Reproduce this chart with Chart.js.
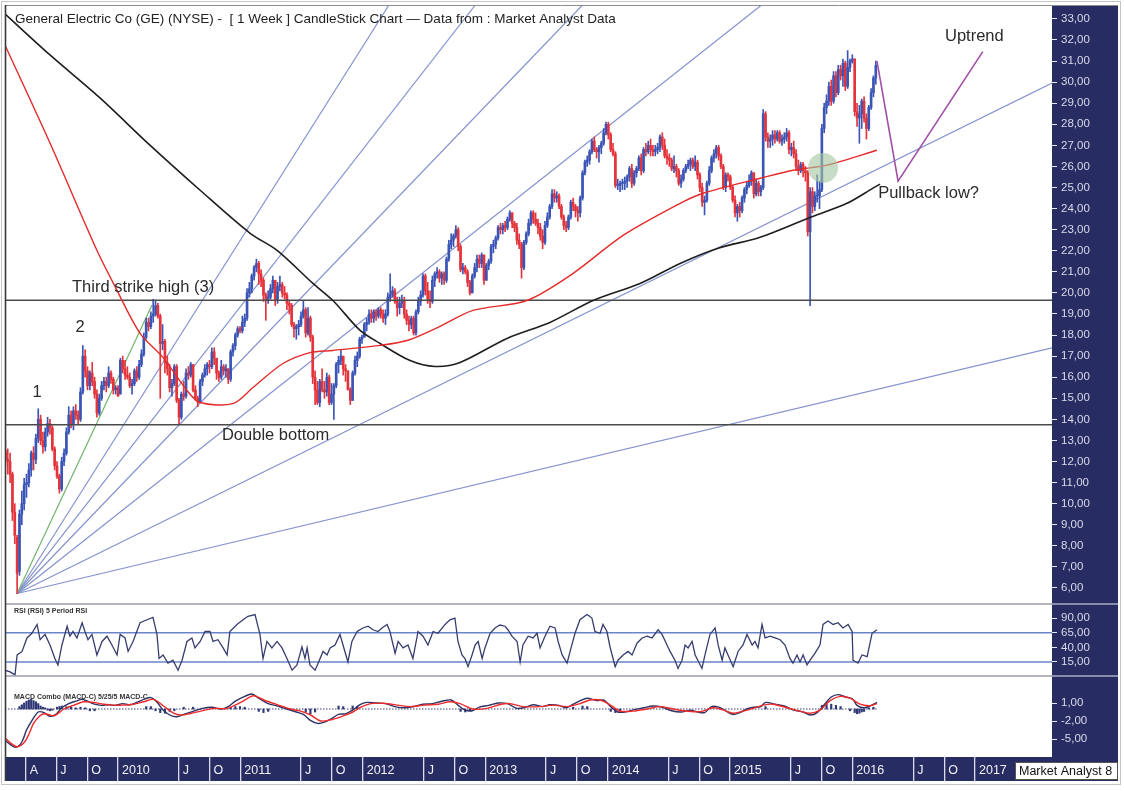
<!DOCTYPE html>
<html><head><meta charset="utf-8">
<script src="https://cdn.jsdelivr.net/npm/chart.js@4.4.1/dist/chart.umd.min.js"></script>
<style>html,body{margin:0;padding:0;background:#fff;}canvas{display:block;}</style>
</head><body>
<canvas id="c" width="1124" height="791"></canvas>
<script>
// ---------------- DATA ----------------
const firstWeek = 4; // weeks counted from Fri 2 Jan 2009; first candle = 30 Jan 2009
const weekOpen = [
12.5,12.1,12.0,11.4,9.6,8.4,6.8,9.5,10.0,10.9,11.0,11.6,12.4,12.1,13.1,14.0,13.0,12.7,13.4,13.8,13.6,12.6,11.8,11.3,10.7,12.0,12.4,13.4,14.2,13.8,14.4,14.2,14.0,15.3,17.0,16.3,15.6,16.2,15.8,15.2,14.3,15.0,15.6,15.8,15.6,16.2,15.9,15.4,15.5,
15.2,16.8,16.4,16.1,16.0,15.6,15.7,16.3,16.0,16.6,17.1,17.9,18.6,18.4,18.9,19.0,19.4,18.9,17.6,17.7,16.7,16.4,15.5,15.7,16.5,14.9,14.1,15.2,15.1,16.2,16.1,16.6,15.4,15.0,14.8,15.8,16.1,16.4,16.6,16.5,17.2,16.9,16.2,16.0,16.5,16.3,16.4,15.9,17.2,17.5,18.0,18.3,
18.2,18.6,18.8,20.0,20.2,20.8,21.2,21.4,20.9,20.6,19.9,19.7,19.8,20.2,20.6,19.7,20.3,20.4,20.0,19.9,19.5,19.4,18.5,18.3,18.4,18.5,18.9,19.2,18.1,18.8,17.9,16.0,15.4,14.8,15.8,15.4,15.3,16.0,14.8,15.2,15.6,16.6,16.8,17.0,16.4,16.3,15.4,14.9,16.2,16.8,17.0,17.8,
17.9,18.5,18.6,19.0,18.8,19.1,18.9,19.2,19.0,18.8,19.0,19.8,19.9,20.1,19.6,19.3,19.5,19.6,19.0,18.7,18.5,18.8,18.1,19.1,19.6,19.9,20.8,20.1,19.7,19.6,20.6,20.9,21.0,20.7,20.9,20.6,21.6,22.3,22.5,22.7,23.0,22.2,21.1,21.2,21.0,20.5,20.0,20.8,21.2,21.6,21.4,21.8,
20.6,21.3,21.5,22.2,22.3,22.6,23.1,23.0,23.2,23.1,23.5,23.8,23.3,23.1,22.5,22.3,21.2,22.4,22.8,23.3,23.8,23.5,23.3,23.1,22.7,22.4,23.2,23.6,24.1,24.7,24.5,24.6,24.1,23.6,23.2,23.1,23.6,24.3,24.1,23.9,23.8,24.5,25.7,26.2,26.3,26.7,27.2,26.8,26.7,26.9,27.1,27.6,
28.0,27.5,26.8,26.6,25.1,25.1,25.2,25.2,25.3,25.5,25.9,25.2,25.7,25.9,26.4,25.8,26.8,26.7,27.0,26.8,26.7,26.8,26.9,27.4,27.0,26.5,26.4,26.3,25.9,26.0,25.8,25.2,25.4,25.8,26.0,26.1,26.3,26.0,26.2,25.6,25.0,24.3,24.4,25.2,25.8,26.4,26.6,26.9,26.5,26.0,25.0,25.6,
25.5,25.0,24.4,23.8,24.1,23.9,24.5,24.9,25.1,25.3,25.7,24.7,25.2,24.8,25.0,28.5,27.4,27.2,27.3,27.5,27.3,27.6,27.2,27.3,27.4,27.6,26.8,26.9,26.6,26.0,25.8,26.1,25.8,25.7,22.9,24.8,24.1,24.6,24.6,24.9,27.8,28.8,29.1,29.8,29.1,30.3,29.5,30.6,30.3,30.9,29.8,30.7,
31.0,31.1,28.6,28.3,28.5,29.1,28.3,27.8,28.8,29.5,30.2];
const weekHigh = [
13.0,12.6,12.4,11.5,10.0,8.5,9.7,10.6,11.2,11.4,11.9,12.5,12.7,13.3,14.5,14.2,13.4,13.6,14.1,14.0,13.7,12.7,12.0,11.4,12.2,12.6,13.6,14.6,14.4,14.6,14.7,14.4,15.5,17.5,17.3,16.5,16.3,16.7,16.0,15.4,15.2,15.8,16.0,16.0,16.5,16.3,16.0,15.6,15.6,
16.9,17.0,16.8,16.5,16.2,15.9,16.4,16.5,16.8,17.3,18.1,18.8,18.8,19.1,19.7,19.6,19.5,19.0,18.5,17.8,17.0,16.6,15.9,16.6,16.6,15.0,15.3,15.8,16.4,16.5,16.7,16.6,15.6,15.1,15.9,16.2,16.6,16.7,16.8,17.4,17.4,16.9,16.3,16.8,16.6,16.6,16.4,17.3,17.6,18.1,18.4,18.4,
18.9,19.0,20.2,20.5,20.9,21.3,21.6,21.5,21.1,20.7,20.0,20.1,20.4,20.8,20.6,20.5,20.8,20.5,20.3,20.0,19.6,19.5,18.6,18.5,18.7,19.1,19.6,19.3,19.3,18.9,18.0,16.3,15.8,15.9,16.4,15.8,16.2,16.1,15.7,15.7,16.7,17.0,17.3,17.0,16.6,16.3,15.5,16.3,17.0,17.2,17.9,18.0,
18.6,18.8,19.2,19.2,19.2,19.2,19.3,19.3,19.2,19.2,20.0,20.9,20.3,20.2,19.8,19.8,19.9,19.8,19.2,18.9,18.9,18.9,19.2,19.8,20.1,20.9,20.9,20.5,20.1,20.8,21.0,21.2,21.1,21.0,21.0,21.7,22.5,22.8,22.8,23.2,23.1,22.3,21.4,21.3,21.1,20.6,20.9,21.4,21.8,21.8,21.9,21.8,
21.4,21.6,22.3,22.5,22.7,23.2,23.3,23.3,23.4,23.6,23.9,23.8,23.4,23.3,22.8,22.4,22.5,22.9,23.5,23.9,23.9,23.8,23.5,23.3,23.0,23.4,23.8,24.2,24.9,24.9,24.8,24.7,24.2,23.7,23.4,23.7,24.4,24.5,24.2,24.1,24.6,25.8,26.3,26.5,26.8,27.3,27.4,26.9,27.0,27.2,27.8,28.1,
28.1,27.6,27.1,26.7,25.4,25.3,25.4,25.5,25.6,26.0,26.1,25.8,26.0,26.5,26.6,26.9,27.1,27.2,27.3,27.0,27.0,27.1,27.5,27.6,27.3,26.8,26.6,26.4,26.5,26.1,25.9,25.6,25.9,26.1,26.3,26.4,26.4,26.5,26.3,25.7,25.2,24.6,25.3,26.0,26.5,26.8,27.0,27.0,26.6,26.1,25.7,25.7,
25.6,25.1,24.6,24.2,24.3,24.6,25.0,25.3,25.6,25.8,25.7,25.4,25.3,25.1,28.7,28.6,27.6,27.5,27.7,27.7,27.7,27.7,27.5,27.6,27.8,27.7,27.1,27.2,26.8,26.3,26.2,26.2,26.0,25.8,25.0,25.0,24.8,25.6,25.3,28.0,29.0,29.4,30.0,30.1,30.5,30.5,30.8,30.8,31.1,31.0,31.5,31.1,
31.3,31.1,29.0,28.9,29.2,29.3,28.5,28.9,29.7,30.3,31.0];
const weekLow = [
11.8,11.4,11.0,9.2,8.1,5.73,6.6,9.0,9.7,10.3,10.8,11.3,11.6,11.9,12.9,12.8,12.4,12.5,13.2,13.3,12.5,11.6,11.2,10.5,10.6,11.8,12.3,13.3,13.6,13.5,14.0,13.8,13.9,15.2,16.0,15.4,15.4,15.6,15.0,14.1,14.2,14.9,15.4,15.3,15.5,15.7,15.2,15.2,15.1,
15.2,16.2,15.9,15.9,15.5,15.2,15.6,15.8,15.9,16.5,17.0,17.8,18.2,18.3,18.6,18.9,18.8,15.0,17.3,16.2,16.1,15.3,15.1,15.6,14.8,13.8,14.0,14.9,15.0,15.9,16.0,15.3,14.9,14.6,14.8,15.6,16.0,16.1,16.2,16.4,16.6,15.9,15.8,15.9,16.1,16.0,15.7,15.8,17.0,17.3,17.9,18.1,
18.1,18.4,18.7,19.8,20.0,20.6,21.0,20.4,20.3,19.6,18.7,19.5,19.7,20.0,19.4,19.5,20.1,19.8,19.7,19.2,19.0,18.4,17.9,17.8,18.0,18.4,18.8,17.9,18.0,17.7,15.7,14.7,14.7,14.6,15.3,15.0,15.1,14.7,14.7,14.0,15.5,16.2,16.6,16.1,15.8,15.4,14.7,14.9,16.1,16.5,16.9,17.6,
17.9,18.2,18.5,18.6,18.6,18.7,18.8,18.8,18.6,18.5,18.9,19.6,19.8,19.5,18.9,19.0,19.3,18.8,18.5,18.2,18.3,18.0,18.0,19.0,19.4,19.8,19.9,19.5,19.3,19.5,20.3,20.7,20.5,20.4,20.4,20.5,21.5,22.1,22.2,22.6,22.0,21.0,20.9,20.9,20.3,19.9,20.0,20.7,21.0,21.2,21.2,20.4,
20.6,21.1,21.4,21.9,22.1,22.5,22.8,22.8,22.9,23.0,23.4,23.1,22.9,22.3,22.1,20.7,21.1,22.3,22.7,23.2,23.3,23.2,22.8,22.5,22.1,22.3,23.1,23.5,24.0,24.3,24.3,24.0,23.5,23.0,22.9,23.0,23.5,23.9,23.6,23.4,23.6,24.4,25.6,26.0,26.1,26.6,26.7,26.4,26.2,26.6,27.0,27.5,
27.3,26.7,26.5,25.0,24.9,24.8,24.9,24.9,25.0,25.3,25.0,25.1,25.5,25.8,25.6,25.7,26.5,26.6,26.5,26.5,26.5,26.6,26.7,26.8,26.4,26.1,26.0,25.8,25.7,25.5,25.1,25.0,25.3,25.7,25.9,25.8,25.9,25.8,25.4,24.8,24.1,23.7,24.3,25.1,25.7,26.2,26.4,26.3,25.9,24.9,24.8,25.3,
24.9,24.3,23.6,23.4,23.6,23.8,24.3,24.7,25.0,25.1,24.5,24.6,24.6,24.6,24.9,27.2,26.9,26.9,27.0,27.1,27.2,27.1,27.0,27.1,27.2,26.6,26.5,26.4,25.8,25.6,25.7,25.5,25.3,22.7,19.4,23.8,23.9,24.3,24.0,24.8,27.6,28.5,28.9,28.9,29.0,29.3,29.4,30.1,29.8,29.6,29.7,30.5,
30.9,28.4,27.9,27.1,27.8,28.1,27.3,27.7,28.7,29.3,29.9];
const weekClose = [
12.1,12.0,11.4,9.6,8.5,6.7,9.5,10.0,10.9,11.0,11.6,12.4,12.1,13.1,14.0,13.0,12.7,13.4,13.8,13.6,12.6,11.8,11.3,10.7,12.0,12.4,13.4,14.2,13.8,14.4,14.2,14.0,15.3,17.0,16.3,15.6,16.2,15.8,15.2,14.3,15.0,15.6,15.8,15.6,16.2,15.9,15.4,15.5,15.1,
16.8,16.4,16.1,16.0,15.6,15.7,16.3,16.0,16.6,17.1,17.9,18.6,18.4,18.9,19.0,19.4,18.9,17.6,17.7,16.7,16.4,15.5,15.7,16.5,14.9,14.1,15.2,15.1,16.2,16.1,16.6,15.4,15.0,14.8,15.8,16.1,16.4,16.6,16.5,17.2,16.9,16.2,16.0,16.5,16.3,16.4,15.9,17.2,17.5,18.0,18.3,18.2,
18.6,18.8,20.0,20.2,20.8,21.2,21.4,20.9,20.6,19.9,19.7,19.8,20.2,20.6,19.7,20.3,20.4,20.0,19.9,19.5,19.4,18.5,18.3,18.4,18.5,18.9,19.2,18.1,18.8,17.9,16.0,15.4,14.8,15.8,15.4,15.3,16.0,14.8,15.2,15.6,16.6,16.8,17.0,16.4,16.3,15.4,14.9,16.2,16.8,17.0,17.8,17.9,
18.5,18.6,19.0,18.8,19.1,18.9,19.2,19.0,18.8,19.0,19.8,19.9,20.1,19.6,19.3,19.5,19.6,19.0,18.7,18.5,18.8,18.1,19.1,19.6,19.9,20.8,20.1,19.7,19.6,20.6,20.9,21.0,20.7,20.9,20.6,21.6,22.3,22.5,22.7,23.0,22.2,21.1,21.2,21.0,20.5,20.0,20.8,21.2,21.6,21.4,21.8,20.6,
21.3,21.5,22.2,22.3,22.6,23.1,23.0,23.2,23.1,23.5,23.8,23.3,23.1,22.5,22.3,21.2,22.4,22.8,23.3,23.8,23.5,23.3,23.1,22.7,22.4,23.2,23.6,24.1,24.7,24.5,24.6,24.1,23.6,23.2,23.1,23.6,24.3,24.1,23.9,23.8,24.5,25.7,26.2,26.3,26.7,27.2,26.8,26.7,26.9,27.1,27.6,28.0,
27.5,26.8,26.6,25.1,25.1,25.2,25.2,25.3,25.5,25.9,25.2,25.7,25.9,26.4,25.8,26.8,26.7,27.0,26.8,26.7,26.8,26.9,27.4,27.0,26.5,26.4,26.3,25.9,26.0,25.8,25.2,25.4,25.8,26.0,26.1,26.3,26.0,26.2,25.6,25.0,24.3,24.4,25.2,25.8,26.4,26.6,26.9,26.5,26.0,25.0,25.6,25.5,
25.0,24.4,23.8,24.1,23.9,24.5,24.9,25.1,25.3,25.7,24.7,25.2,24.8,25.0,28.5,27.4,27.2,27.3,27.5,27.3,27.6,27.2,27.3,27.4,27.6,26.8,26.9,26.6,26.0,25.8,26.1,25.8,25.7,22.9,24.8,24.1,24.6,24.6,24.9,27.8,28.8,29.1,29.8,29.1,30.3,29.5,30.6,30.3,30.9,29.8,30.7,31.0,
31.1,28.6,28.3,28.5,29.1,28.3,27.8,28.8,29.5,30.2,30.8];

const redMaWeeks  = [3.8,23.0,43.0,50.7,61.4,71.2,81.4,87.0,101.0,109.5,122.3,133.8,143.6,163.7,175.2,189.0,203.3,226.3,246.0,267.3,291.6,301.4,325.7,339.7,354.2,375.5];
const redMaValues = [31.76,27.11,22.02,20.31,18.08,16.94,15.37,14.80,14.75,15.51,16.65,17.17,17.27,17.51,17.74,18.40,19.17,19.64,20.93,22.73,24.25,24.73,25.44,25.82,26.06,26.77];
const blackMaWeeks  = [3.8,23.0,44.3,65.6,87.0,108.3,119.8,135.1,143.6,155.2,163.7,176.5,187.1,197.8,217.8,236.1,254.5,274.5,291.6,307.8,325.7,346.1,362.7,373.8,376.8];
const blackMaValues = [33.24,31.29,29.25,27.01,24.87,22.83,22.02,20.45,19.64,18.22,17.60,16.79,16.51,16.70,17.84,18.60,19.64,20.45,21.40,22.12,22.64,23.54,24.25,24.97,25.16];

const fanOriginWeek = 9, fanOriginPrice = 5.74;
const fanEndWeeks  = [66.5,167.5,204.3,250.0,326.3,450.1,450.1];
const fanEndPrices = [19.43,33.66,33.66,33.66,33.66,29.96,17.39];
const levelPrices = [19.65, 13.75];
const projectionWeeks  = [375.5, 384.5, 420.6];
const projectionPrices = [31.0, 25.3, 31.45];
const circleWeek = 352.5, circlePrice = 25.93;

const rsiWeeks = [3.8,6.0,8.1,9.0,11.1,13.2,15.3,17.5,18.8,20.9,23.0,25.1,26.4,28.1,30.3,31.5,32.8,34.5,36.7,37.9,39.2,40.9,43.0,45.2,47.3,49.4,51.6,52.9,55.0,56.3,58.4,61.4,64.4,66.9,68.6,69.5,71.2,73.3,75.4,77.6,79.3,81.4,83.5,84.8,87.0,89.1,91.2,92.5,94.6,96.8,98.5,99.7,102.7,105.3,107.4,110.4,112.5,113.8,115.5,117.6,119.8,121.9,124.0,126.2,128.3,130.4,131.7,132.6,133.8,136.0,137.3,139.4,141.1,142.4,144.5,146.6,147.9,150.0,151.7,153.9,156.4,158.6,160.7,162.8,164.5,166.7,167.9,170.1,171.4,173.5,175.6,177.7,179.9,182.0,184.1,186.3,188.4,191.4,193.5,195.6,196.9,198.6,199.9,201.2,202.9,204.2,205.5,207.2,208.4,210.6,212.7,214.8,217.0,218.2,219.9,222.1,223.4,224.6,226.8,228.9,230.6,231.9,234.0,236.1,238.3,239.6,241.3,243.4,244.7,246.8,248.9,251.9,254.0,255.3,257.5,258.7,260.4,261.7,263.9,265.1,267.3,269.4,271.1,273.2,275.4,277.5,279.6,282.2,283.9,286.0,287.3,289.4,290.7,292.4,293.7,295.0,296.7,298.0,300.9,302.2,304.3,306.5,307.8,309.5,310.7,312.0,314.2,316.3,318.4,320.1,322.3,323.5,324.8,326.5,327.8,329.9,332.1,334.2,336.3,338.4,339.7,341.4,342.7,344.0,345.7,347.0,349.1,351.2,352.5,354.6,356.8,358.9,361.0,363.2,364.9,365.3,367.4,369.1,371.3,373.4,375.5];
const rsiValues = [1,-2,-7,27,33,56,64,79,53,62,44,21,10,44,76,59,67,56,82,67,53,62,27,50,59,44,27,62,56,33,50,82,87,91,62,21,27,13,18,1,18,50,56,39,50,67,67,50,53,39,27,67,79,87,93,96,62,21,50,39,50,39,21,1,10,41,21,39,10,1,13,33,27,39,44,62,44,15,50,67,73,76,70,67,73,79,67,30,50,39,44,21,67,59,44,67,64,79,87,90,50,27,21,7,27,44,50,21,39,64,73,78,76,70,59,50,15,44,59,56,64,39,59,76,73,50,27,13,33,64,87,96,90,67,64,79,67,41,7,18,27,33,27,47,56,59,56,70,62,44,33,18,4,18,44,39,50,27,4,27,62,73,44,18,39,27,7,33,44,62,44,50,39,79,56,59,56,53,44,21,13,27,15,27,10,18,30,44,79,85,79,82,73,79,67,18,13,27,24,64,70];
const rsiLevels = [65, 15];

const macdWeeks = [3.8,6,8.5,11,13,15.5,18,20.5,23,25.5,28,31,34,36.5,39,42,45,48,51,54,57,60,63,66,68.5,71,74,77,80,84,88,92,96,99,102,106,109,112,116,120,124,128,131,134,137,140,143,146,149,152,155,158,162,166,170,174,178,182,186,190,194,197,200,203,206,210,214,218,222,225,229,233,236,240,243,246,249,252,256,259,262,265,268,272,276,280,284,288,292,296,299,302,305,308,311,314,317,320,323,326,328,332,336,340,344,347,350,353,356,359,362,365,367,370,373,375.5];
const macdValues = [-5.2,-5.9,-6.4,-5.5,-3.5,-1.8,-0.5,-0.6,-1.2,-0.9,0.2,0.9,1.3,1.6,1.3,0.8,0.6,0.7,0.6,0.9,0.7,1.1,1.6,1.9,1.2,-0.1,-1.0,-1.3,-0.9,-0.4,0.1,0.3,0.0,0.4,1.3,2.1,2.5,1.8,0.9,0.5,0.0,-0.5,-0.9,-1.9,-2.4,-2.2,-1.6,-0.9,-0.8,-0.2,0.7,1.1,1.0,0.9,0.4,0.2,0.4,0.8,0.9,1.3,1.5,0.6,-0.2,-0.3,0.3,0.6,1.0,0.9,0.1,0.2,0.7,0.4,0.7,0.6,0.2,0.8,1.4,1.8,1.4,1.5,0.4,-0.5,-0.5,-0.1,0.2,0.5,0.3,-0.3,-0.5,-0.2,-0.5,-0.6,0.4,0.3,-0.3,-0.9,-0.6,0.0,0.3,0.4,1.1,0.8,0.5,-0.2,-0.5,-1.0,-0.6,0.7,2.0,2.4,2.0,1.7,0.6,0.2,0.6,1.1];
const signalWeeks = [3.8,6,9,12,14,16,18.5,20.5,23,25,29,33,37.4,41.6,45.9,50.1,54.4,58.6,62.9,67.2,71.4,75.7,78.7,83,87.2,92.8,98.7,104.3,109.8,114.1,120.1,125.6,129.9,134.1,138.4,142.7,146.9,151.2,155.5,159.7,165.3,171.2,176.8,182.3,188.4,193.5,197.8,203.3,209.3,214.8,219.1,224.6,231.9,237.4,243.4,248.9,253.2,257.5,261.7,266,271.6,277.5,283.1,288.6,294.6,300.1,305.7,309.9,314.2,318.4,322.7,327,331.2,337.2,342.7,347,351.2,355.5,359.8,364,368.3,372.5,375.5];
const signalValues = [-4.8,-5.6,-6.3,-5.6,-4.2,-2.4,-1.2,-0.8,-1.0,-1.1,0.0,0.6,1.2,1.1,0.8,0.65,0.65,0.8,1.2,1.6,0.5,-0.7,-1.0,-0.75,-0.35,0.1,0.1,1.1,2.2,1.5,0.7,0.0,-0.35,-1.0,-2.0,-1.8,-1.3,-0.7,0.3,0.9,0.95,0.65,0.4,0.65,0.8,1.2,0.9,0.0,0.1,0.75,0.9,0.4,0.4,0.65,0.4,0.9,1.5,1.5,0.7,-0.35,-0.35,0.0,0.4,0.0,-0.35,-0.45,0.2,-0.15,-0.7,-0.35,0.1,0.65,0.8,0.2,-0.35,-0.7,-0.2,1.4,2.1,1.8,0.8,0.55,0.9];
const histWeeks = [10,11,12,13,14,15,16,17,18,19,20,21,22,23,24,26,27,28,30,32,34,36,38,40,42,64,66,68,70,72,74,76,80,84,100,102,104,106,112,114,116,132,134,136,146,148,152,154,198,200,202,246,250,252,262,264,266,328,352,354,356,358,360,364,366,367,368,369,370,372,374];
const histValues = [0.4,0.7,1.0,1.3,1.5,1.6,1.4,1.2,0.9,0.5,0.3,0.2,-0.2,-0.3,-0.2,0.3,0.4,0.5,0.4,0.3,0.2,0.3,0.2,-0.3,-0.3,0.4,0.4,-0.3,-0.6,-0.7,-0.4,-0.3,0.3,0.3,0.3,0.4,0.4,0.3,-0.4,-0.6,-0.4,-0.5,-0.8,-0.5,0.5,0.4,0.5,0.4,-0.4,-0.5,-0.3,0.3,0.5,0.4,-0.4,-0.6,-0.4,0.4,0.6,0.8,0.8,0.6,0.4,-0.3,-0.6,-0.8,-0.7,-0.5,-0.4,0.2,0.3];

const priceTicks = [6,7,8,9,10,11,12,13,14,15,16,17,18,19,20,21,22,23,24,25,26,27,28,29,30,31,32,33];
const rsiTicks = [15,40,65,90];
const macdTicks = [-5,-2,1];
const axisDates = ['2009-04-01','2009-07-01','2009-10-01','2010-01-01','2010-07-01','2010-10-01','2011-01-01','2011-07-01','2011-10-01','2012-01-01','2012-07-01','2012-10-01','2013-01-01','2013-07-01','2013-10-01','2014-01-01','2014-07-01','2014-10-01','2015-01-01','2015-07-01','2015-10-01','2016-01-01','2016-07-01','2016-10-01','2017-01-01'];
const axisLabels = ['A','J','O','2010','J','O','2011','J','O','2012','J','O','2013','J','O','2014','J','O','2015','J','O','2016','J','O','2017'];

const titleText = 'General Electric Co (GE) (NYSE) -  [ 1 Week ] CandleStick Chart \u2014 Data from : Market Analyst Data';
const rsiTitle = 'RSI (RSI) 5 Period RSI';
const macdTitle = 'MACD Combo (MACD-C) 5/25/5 MACD-C';
const brandText = 'Market Analyst 8';
const notes = [
  {text:'1', week:17.5, price:15.30, align:'center'},
  {text:'2', week:35.8, price:18.38, align:'center'},
  {text:'Third strike high (3)', week:32.4, price:20.28, align:'left'},
  {text:'Double bottom', week:96.3, price:13.26, align:'left'},
  {text:'Uptrend', week:404.5, price:32.15, align:'left'},
  {text:'Pullback low?', week:376.0, price:24.74, align:'left'}
];

// ---------------- STYLE ----------------
const FONT = '"Liberation Sans", Arial, Helvetica, sans-serif';
const NAVY = '#272c63';
const UPC = '#3b55b7', DOWNC = '#e3343b';
const FANC = '#8592cf', GREENC = '#6fb46a';

// ---------------- BUILD ----------------
const weekZero = Date.parse('2009-01-02');
const toWeek = s => (Date.parse(s) - weekZero) / (7 * 86400000);
const pts = (xs, ys) => xs.map((x, i) => ({x, y: ys[i]}));
const n = Math.min(weekOpen.length, weekHigh.length, weekLow.length, weekClose.length);
const wickData = [], bodyData = [];
for (let i = 0; i < n; i++) {
  wickData.push({x: firstWeek + i, y: [weekLow[i], weekHigh[i]]});
  bodyData.push({x: firstWeek + i, y: [weekOpen[i], weekClose[i]]});
}
const candleColor = ctx => (weekClose[ctx.dataIndex] >= weekOpen[ctx.dataIndex] ? UPC : DOWNC);
const X0 = 3.83, X1 = 450.1;

const datasets = [];
fanEndWeeks.forEach((w, i) => datasets.push({
  type:'line', yAxisID:'y', order:20,
  data:[{x:fanOriginWeek, y:fanOriginPrice}, {x:w, y:fanEndPrices[i]}],
  borderColor: i === 0 ? GREENC : FANC, borderWidth:1.2, pointRadius:0, fill:false
}));
levelPrices.forEach(p => datasets.push({
  type:'line', yAxisID:'y', order:9,
  data:[{x:X0, y:p}, {x:X1, y:p}], borderColor:'#4a4a4a', borderWidth:1.5, pointRadius:0
}));
datasets.push({type:'bar', yAxisID:'y', order:12, data:wickData, backgroundColor:candleColor,
  barThickness:1, grouped:false, borderWidth:0});
datasets.push({type:'bar', yAxisID:'y', order:11, data:bodyData, backgroundColor:candleColor,
  barThickness:2, minBarLength:1, grouped:false, borderWidth:0});
datasets.push({type:'line', yAxisID:'y', order:8, data:pts(redMaWeeks, redMaValues),
  borderColor:'#e52a2a', borderWidth:1.4, pointRadius:0, tension:0.3});
datasets.push({type:'line', yAxisID:'y', order:8, data:pts(blackMaWeeks, blackMaValues),
  borderColor:'#1e1e1e', borderWidth:1.6, pointRadius:0, tension:0.3});
datasets.push({type:'bubble', yAxisID:'y', order:5, data:[{x:circleWeek, y:circlePrice, r:15}],
  backgroundColor:'rgba(165,198,160,0.62)', borderWidth:0});
datasets.push({type:'line', yAxisID:'y', order:4, data:pts(projectionWeeks, projectionPrices),
  borderColor:'#a14fa6', borderWidth:1.6, pointRadius:0});
// RSI
rsiLevels.forEach(l => datasets.push({type:'line', yAxisID:'yRsi', order:20,
  data:[{x:X0, y:l}, {x:X1, y:l}], borderColor:'#6a84c9', borderWidth:1.5, pointRadius:0}));
datasets.push({type:'line', yAxisID:'yRsi', order:10, data:pts(rsiWeeks, rsiValues),
  borderColor:'#363d6e', borderWidth:1.3, pointRadius:0});
// MACD
datasets.push({type:'line', yAxisID:'yMacd', order:20, data:[{x:X0, y:0}, {x:375.5, y:0}],
  borderColor:'#3a4279', borderWidth:1.2, borderDash:[1.5,1.5], pointRadius:0});
datasets.push({type:'bar', yAxisID:'yMacd', order:15, data:pts(histWeeks, histValues),
  backgroundColor:'#2f3775', barThickness:1.5, grouped:false, borderWidth:0});
datasets.push({type:'line', yAxisID:'yMacd', order:12, data:pts(macdWeeks, macdValues),
  borderColor:'#2c3262', borderWidth:1.4, pointRadius:0, tension:0.3});
datasets.push({type:'line', yAxisID:'yMacd', order:11, data:pts(signalWeeks, signalValues),
  borderColor:'#ee2a2a', borderWidth:1.4, pointRadius:0, tension:0.3});

const fmt = v => Number(v).toFixed(2).replace('.', ',');
const yAxisCommon = (ticksArr) => ({
  type:'linear', position:'right', stack:'panes',
  afterBuildTicks: s => { s.ticks = ticksArr.map(v => ({value:v})); },
  afterFit: s => { s.width = 66; s.paddingTop = 0; s.paddingBottom = 0; },
  ticks: {autoSkip:false, color:'#d9dbe9', font:{family:FONT, size:11.5}, padding:4, callback:fmt},
  grid: {offset:false, drawOnChartArea:false, drawTicks:true, tickLength:5, color:'#e6e7f2', lineWidth:1},
  border: {display:false}
});

const decor = {
  id:'decor',
  beforeDraw(chart) {
    const {ctx, chartArea:ca, scales} = chart;
    const yS = scales.y, xS = scales.x;
    ctx.save();
    ctx.fillStyle = '#ffffff';
    ctx.fillRect(0, 0, chart.width, chart.height);
    ctx.fillStyle = NAVY;
    ctx.fillRect(yS.left, ca.top, yS.right - yS.left, ca.bottom - ca.top);
    ctx.fillRect(ca.left, xS.top, yS.right - ca.left, xS.bottom - xS.top);
    ctx.restore();
  },
  afterDraw(chart) {
    const {ctx, chartArea:ca, scales} = chart;
    const yS = scales.y, yR = scales.yRsi, yM = scales.yMacd, xS = scales.x;
    ctx.save();
    // panel separators
    ctx.lineWidth = 1.5;
    [yS.bottom, yR.bottom].forEach(py => {
      ctx.strokeStyle = '#9c9cab';
      ctx.beginPath(); ctx.moveTo(ca.left, py); ctx.lineTo(ca.right, py); ctx.stroke();
      ctx.strokeStyle = '#a9abc4';
      ctx.beginPath(); ctx.moveTo(ca.right, py); ctx.lineTo(yS.right, py); ctx.stroke();
    });
    // borders
    ctx.strokeStyle = '#8c8c8c'; ctx.lineWidth = 1;
    ctx.beginPath(); ctx.moveTo(ca.left, ca.top + 0.5); ctx.lineTo(yS.right, ca.top + 0.5); ctx.stroke();
    ctx.strokeStyle = '#c4c4c4';
    ctx.strokeRect(1.5, 1.5, yS.right + 1, xS.bottom + 2);
    ctx.strokeStyle = '#3a3a3a'; ctx.lineWidth = 1.6;
    ctx.beginPath(); ctx.moveTo(ca.left + 0.5, ca.top); ctx.lineTo(ca.left + 0.5, xS.bottom); ctx.stroke();
    // title
    ctx.fillStyle = '#222'; ctx.textBaseline = 'middle'; ctx.textAlign = 'left';
    ctx.font = '13.5px ' + FONT;
    ctx.fillText(titleText, ca.left + 10, ca.top + 14);
    // panel captions
    ctx.font = 'bold 7px ' + FONT; ctx.fillStyle = '#333';
    ctx.fillText(rsiTitle, ca.left + 9, yR.top + 7);
    ctx.fillText(macdTitle, ca.left + 9, yM.top + 21);
    // annotations
    ctx.font = '16.5px ' + FONT; ctx.fillStyle = '#2b2b2b';
    notes.forEach(nt => {
      ctx.textAlign = nt.align;
      ctx.fillText(nt.text, xS.getPixelForValue(nt.week), yS.getPixelForValue(nt.price));
    });
    // brand box
    const bx = yS.right - 103, by = xS.top + 5, bw = 103, bh = 18;
    ctx.fillStyle = '#ffffff'; ctx.fillRect(bx, by, bw, bh);
    ctx.strokeStyle = '#555'; ctx.lineWidth = 1; ctx.strokeRect(bx + 0.5, by + 0.5, bw - 1, bh - 1);
    ctx.beginPath(); ctx.rect(bx + 1, by + 1, bw - 2, bh - 2); ctx.clip();
    ctx.fillStyle = '#111'; ctx.textAlign = 'left'; ctx.font = '12.5px ' + FONT;
    ctx.fillText(brandText, bx + 4, by + bh / 2 + 1);
    ctx.restore();
  }
};

new Chart(document.getElementById('c'), {
  type:'line',
  data:{datasets},
  options:{
    responsive:false, animation:false, events:[],
    layout:{autoPadding:false, padding:{left:5, right:6, top:5, bottom:10}},
    plugins:{legend:{display:false}, tooltip:{enabled:false}, title:{display:false}},
    scales:{
      x:{
        type:'linear', min:X0, max:X1, offset:false, position:'bottom',
        afterBuildTicks: s => { s.ticks = axisDates.map(d => ({value: toWeek(d)})); },
        afterFit: s => { s.height = 24; s.paddingLeft = 0; s.paddingRight = 0; },
        ticks:{autoSkip:false, maxRotation:0, minRotation:0, align:'start', labelOffset:4, padding:-18,
               color:'#f2f2f8', font:{family:FONT, size:12.5}, callback:(v, i) => axisLabels[i]},
        grid:{offset:false, drawOnChartArea:false, drawTicks:true, tickLength:24, color:'#dcdcef', lineWidth:1.3},
        border:{display:false}
      },
      y: Object.assign(yAxisCommon(priceTicks), {stackWeight:599, min:5.24, max:33.66}),
      yRsi: Object.assign(yAxisCommon(rsiTicks), {stackWeight:72, min:-8.9, max:113.9}),
      yMacd: Object.assign(yAxisCommon(macdTicks), {stackWeight:81, min:-8, max:5.5})
    }
  },
  plugins:[decor]
});
</script>
</body></html>
